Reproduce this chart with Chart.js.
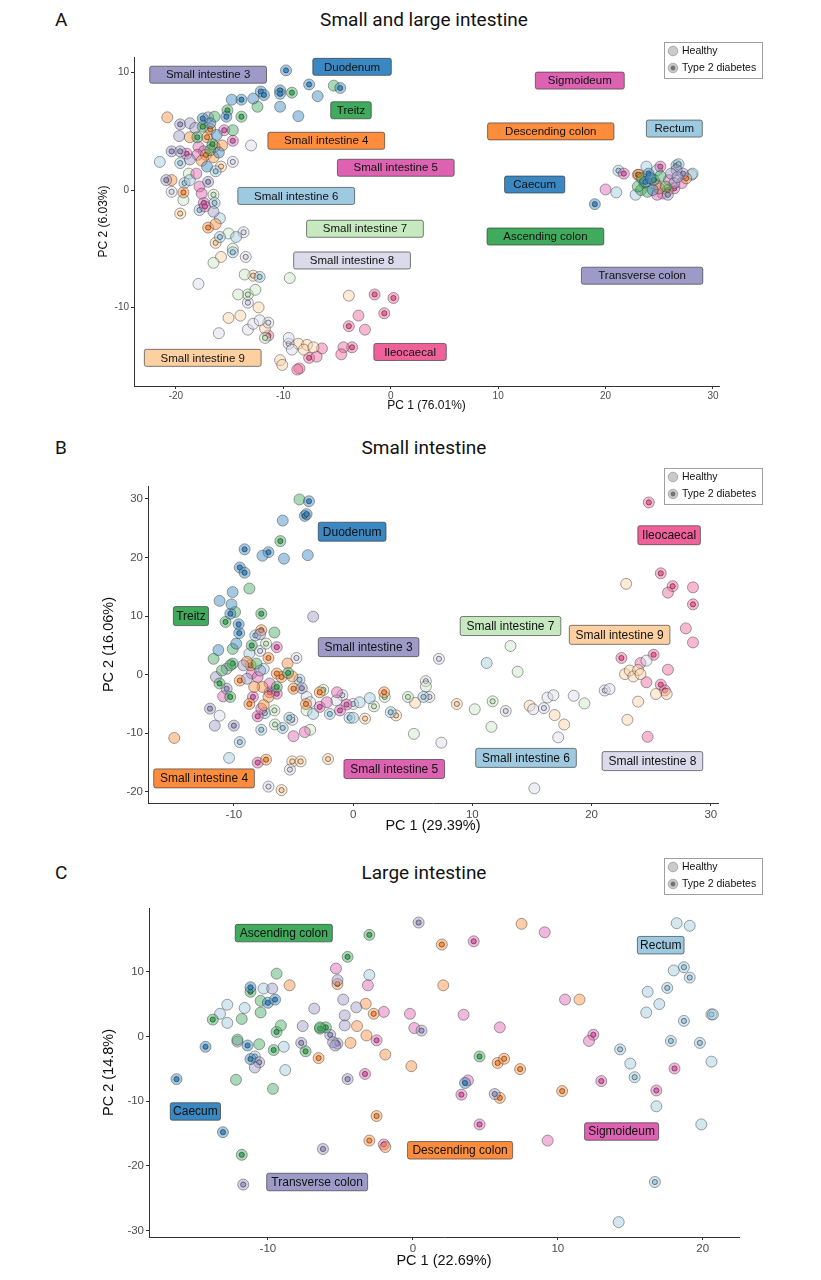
<!DOCTYPE html>
<html>
<head>
<meta charset="utf-8">
<script src="https://cdn.jsdelivr.net/npm/chart.js@4.4.1/dist/chart.umd.min.js"></script>
<style>
    body { margin: 0; background: #fff; width: 821px; height: 1280px; position: relative; overflow: hidden; font-family: Roboto, sans-serif; }
    .panel { position: absolute; left: 0; width: 821px; }
    .panel canvas { position: absolute; left: 0; top: 0; }
    .title { position: absolute; left: 0; width: 848px; text-align: center; font-size: 19px; line-height: 22px; color: #111; }
    .letter { position: absolute; left: 55px; font-size: 19px; line-height: 22px; color: #111; }
</style>
</head>
<body>

<div class="letter" style="top:9px">A</div>
<div class="title" style="top:9px">Small and large intestine</div>
<div class="panel" style="top:0px;height:425px"><canvas id="chartA" width="821" height="425"></canvas></div>

<div class="letter" style="top:437px">B</div>
<div class="title" style="top:437px">Small intestine</div>
<div class="panel" style="top:425px;height:425px"><canvas id="chartB" width="821" height="425"></canvas></div>

<div class="letter" style="top:862px">C</div>
<div class="title" style="top:862px">Large intestine</div>
<div class="panel" style="top:850px;height:430px"><canvas id="chartC" width="821" height="430"></canvas></div>

<script>
// groups (segments) and their colours
const groupKeys = ['duo', 'tre', 'si3', 'si4', 'si5', 'si6', 'si7', 'si8', 'si9', 'ile',
                   'cae', 'asc', 'tra', 'des', 'sig', 'rec'];
const groupNames = ['Duodenum', 'Treitz', 'Small intestine 3', 'Small intestine 4', 'Small intestine 5',
                    'Small intestine 6', 'Small intestine 7', 'Small intestine 8', 'Small intestine 9', 'Ileocaecal',
                    'Caecum', 'Ascending colon', 'Transverse colon', 'Descending colon', 'Sigmoideum', 'Rectum'];
const groupColors = ['#3a87c2', '#41ab5d', '#9e9ac8', '#fd8d3c', '#dd62b1', '#9ecae1', '#c7e9c0', '#dadaeb', '#fdd0a2', '#ee6199',
                     '#3a87c2', '#41ab5d', '#9e9ac8', '#fd8d3c', '#dd62b1', '#9ecae1'];

// ---- panel A: small and large intestine (PC1 76.01%, PC2 6.03%) ----
const aHealthy = [
    [-5.3, 8.9, 'tre'], [-6.8, 8.0, 'duo'], [-10.3, 7.1, 'duo'], [-8.6, 6.3, 'duo'], [-12.8, 7.8, 'duo'], [-12.4, 7.1, 'tre'],
    [-14.8, 7.7, 'duo'], [-16.4, 6.25, 'tre'], [-20.8, 6.2, 'si4'], [-18.7, 5.7, 'si3'], [-16.8, 5.7, 'duo'], [-14.7, 5.1, 'tre'],
    [-13.0, 3.8, 'si8'], [-19.7, 4.6, 'si3'], [-18.7, 4.5, 'si4'], [-16.2, 4.7, 'duo'], [-15.7, 3.8, 'si4'], [-17.9, 3.7, 'si5'],
    [-21.5, 2.4, 'si6'], [-18.7, 2.6, 'si3'], [-17.6, 2.5, 'si4'], [-16.5, 2.8, 'si4'], [-17.4, 3.3, 'si5'], [-16.8, 3.4, 'tre'],
    [-16.4, 3.7, 'si4'], [-17.1, 2.0, 'duo'], [-18.8, 1.4, 'si7'], [-18.1, 1.4, 'si5'], [-20.4, 0.85, 'si4'], [-18.7, 0.85, 'si6'],
    [-17.8, 0.3, 'si5'], [-19.3, -0.85, 'si7'], [-17.6, -0.3, 'si5'], [-16.5, -1.85, 'si3'], [-15.9, -2.4, 'si6'], [-16.3, -2.9, 'si4'],
    [-15.1, -3.7, 'si7'], [-14.4, -4.0, 'si6'], [-14.7, -5.0, 'si7'], [-15.8, -5.7, 'si9'], [-16.5, -6.2, 'si7'], [-17.9, -8.0, 'si8'],
    [-13.6, -7.2, 'si7'], [-9.4, -7.5, 'si7'], [-14.2, -8.9, 'si7'], [-12.6, -8.5, 'si7'], [-12.3, -10.0, 'si9'], [-15.1, -10.9, 'si9'],
    [-14.0, -10.7, 'si9'], [-16.0, -12.2, 'si8'], [-13.3, -11.9, 'si8'], [-12.8, -11.4, 'si8'], [-12.2, -11.1, 'si8'], [-11.7, -11.8, 'si9'],
    [-9.5, -12.6, 'si8'], [-9.2, -13.6, 'si8'], [-10.3, -14.5, 'si9'], [-10.1, -14.9, 'si9'], [-8.6, -13.1, 'si9'], [-7.8, -13.2, 'si9'],
    [-8.1, -13.6, 'si9'], [-7.2, -13.4, 'si9'], [-6.4, -13.5, 'ile'], [-6.9, -14.2, 'ile'], [-8.5, -15.2, 'ile'], [-8.7, -15.3, 'ile'],
    [-4.4, -13.4, 'ile'], [-4.6, -14.0, 'ile'], [-3.9, -9.0, 'si9'], [-3.0, -10.7, 'ile'], [-2.4, -11.9, 'ile'], [-18.2, 5.3, 'si3'],
    [-17.0, 6.2, 'si3'], [-18.0, 3.0, 'si5'], [-16.0, 3.2, 'duo'],
    [20.0, 0.05, 'sig'], [21.0, -0.2, 'rec'], [23.8, 2.0, 'rec'], [26.6, 1.7, 'tra'], [28.0, 1.3, 'rec'], [27.1, 0.6, 'sig'],
    [22.8, -0.4, 'rec'], [24.2, 1.0, 'cae'], [25.1, 1.2, 'asc'], [26.1, 1.4, 'tra'], [25.9, 0.85, 'sig'], [24.7, 0.5, 'sig'],
    [23.6, 0.6, 'asc'], [23.3, 0.0, 'asc'], [23.9, -0.15, 'asc'], [25.3, -0.3, 'sig'], [26.4, 0.6, 'tra'], [24.8, -0.4, 'sig'],
    [24.4, 0.0, 'cae'], [25.6, 0.3, 'asc'], [26.7, 1.1, 'tra'], [23.0, 0.3, 'asc'], [24.8, 1.7, 'rec'], [25.0, 0.15, 'des'],
    [23.4, 1.0, 'asc'], [28.1, 1.4, 'rec']
];
const aT2D = [
    [-9.75, 10.2, 'duo'], [-10.3, 8.5, 'duo'], [-10.3, 8.2, 'duo'], [-12.1, 8.4, 'duo'], [-11.8, 8.1, 'duo'], [-9.2, 8.3, 'tre'],
    [-7.6, 9.0, 'duo'], [-4.7, 8.7, 'duo'], [-13.9, 7.7, 'duo'], [-15.2, 6.8, 'tre'], [-13.9, 6.25, 'tre'], [-15.3, 6.25, 'duo'],
    [-17.5, 6.1, 'duo'], [-19.6, 5.6, 'si3'], [-17.5, 5.4, 'tre'], [-15.5, 5.1, 'si5'], [-14.7, 4.2, 'si5'], [-18.0, 4.5, 'tre'],
    [-17.1, 4.5, 'si4'], [-20.4, 3.3, 'si3'], [-19.6, 3.3, 'si3'], [-19.0, 3.1, 'si5'], [-19.6, 2.3, 'si6'], [-15.8, 2.0, 'si9'],
    [-14.7, 2.4, 'si8'], [-16.3, 1.6, 'si6'], [-20.9, 0.85, 'si3'], [-19.2, 0.6, 'si6'], [-17.0, 0.7, 'si3'], [-20.4, -0.15, 'si8'],
    [-19.3, -0.2, 'si4'], [-16.5, -0.4, 'si7'], [-17.4, -1.1, 'si5'], [-17.8, -1.7, 'si6'], [-16.4, -1.1, 'si6'], [-17.3, -1.4, 'si5'],
    [-19.6, -2.0, 'si9'], [-17.0, -3.2, 'si4'], [-15.9, -4.0, 'si6'], [-13.7, -3.6, 'si8'], [-16.3, -4.5, 'si9'], [-14.7, -5.3, 'si6'],
    [-13.5, -5.7, 'si8'], [-12.8, -7.3, 'si9'], [-12.2, -7.4, 'si6'], [-13.3, -8.9, 'si7'], [-13.3, -9.6, 'si8'], [-11.4, -11.3, 'si8'],
    [-11.4, -12.4, 'ile'], [-11.7, -12.6, 'si7'], [-9.5, -13.1, 'si8'], [-7.6, -14.3, 'ile'], [-3.6, -13.4, 'ile'], [-1.5, -8.9, 'ile'],
    [0.25, -9.2, 'ile'], [-0.6, -10.5, 'ile'], [-3.9, -11.6, 'ile'], [-16.8, 5.2, 'si4'], [-17.2, 3.0, 'si4'], [-16.6, 3.9, 'tre'],
    [19.0, -1.2, 'cae'], [21.2, 1.65, 'rec'], [21.7, 1.4, 'sig'], [23.0, 1.3, 'des'], [25.1, 2.0, 'sig'], [26.6, 2.1, 'rec'],
    [27.5, 1.0, 'des'], [25.8, -0.4, 'tra'], [24.0, 1.4, 'cae'], [26.4, 0.15, 'sig'], [27.2, 1.4, 'tra'], [25.8, 0.0, 'des'],
    [23.7, 0.7, 'cae'], [24.5, 0.85, 'asc'], [23.1, 1.3, 'des'], [26.8, 2.2, 'rec']
];
const aLabels = [
    ['Small intestine 3', -17.0, 9.83, 'si3'], ['Duodenum', -3.6, 10.5, 'duo'], ['Treitz', -3.7, 6.8, 'tre'],
    ['Small intestine 4', -6.0, 4.2, 'si4'], ['Small intestine 5', 0.47, 1.9, 'si5'], ['Small intestine 6', -8.8, -0.5, 'si6'],
    ['Small intestine 7', -2.4, -3.3, 'si7'], ['Small intestine 8', -3.6, -6.0, 'si8'], ['Small intestine 9', -17.5, -14.3, 'si9'],
    ['Ileocaecal', 1.8, -13.8, 'ile'], ['Sigmoideum', 17.6, 9.33, 'sig'], ['Descending colon', 14.9, 5.0, 'des'],
    ['Rectum', 26.4, 5.24, 'rec'], ['Caecum', 13.4, 0.47, 'cae'], ['Ascending colon', 14.4, -3.96, 'asc'],
    ['Transverse colon', 23.4, -7.3, 'tra']
];
const aXTicks = [-20, -10, 0, 10, 20, 30];
const aYTicks = [-10, 0, 10];

// ---- panel B: small intestine (PC1 29.39%, PC2 16.06%) ----
const bHealthy = [
    [-4.5, 29.9, 'tre'], [-5.9, 26.3, 'duo'], [-7.6, 20.3, 'duo'], [-5.8, 19.8, 'duo'], [-3.8, 20.4, 'duo'], [-8.7, 14.7, 'tre'],
    [-10.1, 14.1, 'duo'], [-11.2, 12.6, 'duo'], [-10.2, 12.0, 'duo'], [-9.9, 10.7, 'tre'], [-3.35, 9.9, 'si3'], [-6.6, 7.2, 'tre'],
    [-7.8, 6.9, 'si3'], [-9.8, 5.3, 'duo'], [-10.1, 4.4, 'tre'], [-11.3, 4.2, 'duo'], [-11.7, 2.7, 'tre'], [-5.5, 1.9, 'si4'],
    [-8.7, 3.6, 'si6'], [-10.3, 1.6, 'tre'], [-10.6, 1.0, 'si3'], [-11.0, 0.7, 'tre'], [-11.5, -0.4, 'si3'], [-8.9, 2.2, 'si4'],
    [-9.2, 1.6, 'si3'], [-8.1, 1.9, 'tre'], [-7.8, 0.7, 'si3'], [-7.5, 1.0, 'si6'], [-8.5, 0.2, 'si5'], [-8.0, -0.4, 'si5'],
    [-8.9, -0.7, 'si3'], [-5.1, -0.3, 'si4'], [-7.0, -1.5, 'si5'], [-7.6, -2.1, 'si4'], [-8.3, -2.1, 'si4'], [-10.9, -3.7, 'si5'],
    [-7.1, -3.8, 'si4'], [-7.5, -5.2, 'si4'], [-7.7, -5.8, 'si5'], [-3.9, -3.8, 'si8'], [-3.6, -4.7, 'si8'], [-3.9, -6.1, 'si7'],
    [-3.35, -6.7, 'si6'], [-2.2, -4.7, 'si5'], [-1.35, -3.0, 'si5'], [-1.4, -4.4, 'si8'], [0.55, -4.7, 'si6'], [1.4, -4.0, 'si6'],
    [0.0, -7.35, 'si6'], [5.2, -4.8, 'si9'], [6.1, -2.0, 'si7'], [5.1, -10.1, 'si7'], [7.4, -11.6, 'si8'], [-5.0, -10.5, 'si5'],
    [-4.05, -9.8, 'si5'], [-3.6, -9.4, 'si7'], [-11.2, -7.0, 'si8'], [-11.6, -8.7, 'si3'], [-15.0, -10.8, 'si4'], [-10.4, -14.2, 'si6'],
    [26.4, 14.0, 'ile'], [28.5, 14.9, 'ile'], [22.9, 15.5, 'si9'], [27.9, 7.9, 'ile'], [28.5, 5.5, 'ile'], [24.6, 2.4, 'si8'],
    [24.1, 2.0, 'ile'], [26.4, 0.85, 'ile'], [22.8, 0.1, 'si9'], [23.2, 0.7, 'si9'], [23.5, -0.3, 'si9'], [23.9, 0.8, 'si9'],
    [24.1, 0.1, 'si9'], [24.6, -1.3, 'ile'], [25.4, -3.3, 'si9'], [26.3, -3.3, 'si9'], [21.5, -2.45, 'si8'], [23.9, -4.6, 'si9'],
    [23.0, -7.7, 'si9'], [24.7, -10.6, 'ile'], [13.2, 4.9, 'si7'], [13.8, 0.5, 'si7'], [11.2, 2.0, 'si6'], [10.2, -5.9, 'si7'],
    [11.6, -8.9, 'si7'], [14.8, -5.3, 'si9'], [15.1, -5.9, 'si8'], [16.3, -3.9, 'si8'], [16.8, -3.5, 'si8'], [16.9, -6.9, 'si9'],
    [17.7, -8.5, 'si9'], [17.2, -10.7, 'si8'], [18.5, -3.6, 'si8'], [19.4, -4.9, 'si7'], [15.2, -19.4, 'si8']
];
const bT2D = [
    [-3.7, 29.6, 'duo'], [-4.05, 27.1, 'duo'], [-3.9, 27.4, 'duo'], [-6.1, 22.8, 'tre'], [-9.1, 21.4, 'duo'], [-7.1, 20.9, 'duo'],
    [-9.5, 18.3, 'duo'], [-9.1, 17.4, 'duo'], [-10.3, 10.4, 'duo'], [-10.7, 9.0, 'tre'], [-7.7, 10.4, 'tre'], [-9.6, 8.6, 'duo'],
    [-9.55, 7.1, 'duo'], [-7.7, 7.6, 'si4'], [-8.2, 6.7, 'si6'], [-6.4, 4.7, 'si5'], [-7.3, 5.3, 'si7'], [-8.5, 5.0, 'tre'],
    [-7.8, 4.05, 'si8'], [-7.1, 2.85, 'si4'], [-4.75, 2.85, 'si8'], [-10.1, 1.9, 'tre'], [-8.6, 1.6, 'si4'], [-9.5, -1.0, 'si4'],
    [-6.4, 0.2, 'si4'], [-6.0, -0.4, 'si4'], [-5.45, 0.3, 'tre'], [-6.4, -2.1, 'tre'], [-11.2, -1.5, 'tre'], [-10.6, -2.4, 'si3'],
    [-10.3, -3.8, 'tre'], [-4.5, -0.85, 'si6'], [-5.0, -2.4, 'si4'], [-4.3, -2.3, 'si3'], [-7.0, -3.0, 'si5'], [-6.4, -3.25, 'si5'],
    [-8.4, -3.8, 'si5'], [-8.7, -5.0, 'si4'], [-7.4, -6.55, 'si6'], [-8.0, -7.1, 'si5'], [-6.6, -6.1, 'si7'], [-3.95, -5.0, 'si4'],
    [-2.8, -3.0, 'si4'], [-2.5, -2.6, 'si7'], [-2.8, -5.5, 'si5'], [-0.9, -3.5, 'si8'], [-0.55, -5.1, 'si5'], [-1.1, -6.1, 'si5'],
    [0.0, -5.0, 'si8'], [1.75, -5.4, 'si7'], [-1.95, -6.7, 'si6'], [-0.3, -7.35, 'si6'], [1.0, -7.5, 'si9'], [2.6, -3.0, 'si4'],
    [2.65, -3.8, 'si7'], [3.15, -6.4, 'si6'], [3.6, -6.95, 'si9'], [4.6, -3.8, 'si7'], [5.9, -3.8, 'si6'], [6.4, -3.8, 'si8'],
    [6.1, -1.1, 'si8'], [7.2, 2.7, 'si8'], [8.7, -5.0, 'si9'], [-5.35, -7.35, 'si6'], [-5.1, -7.7, 'si8'], [-6.55, -8.5, 'si7'],
    [-5.9, -9.1, 'si6'], [-7.7, -9.4, 'si6'], [-12.0, -5.8, 'si3'], [-10.0, -8.7, 'si3'], [-9.5, -11.5, 'si6'], [-8.0, -15.0, 'si5'],
    [-7.3, -14.5, 'si4'], [-5.1, -14.8, 'si9'], [-4.4, -14.8, 'si9'], [-5.3, -16.2, 'si8'], [-2.1, -14.4, 'si9'], [-7.1, -19.1, 'si8'],
    [-6.0, -19.7, 'si9'], [24.8, 29.4, 'ile'], [25.8, 17.3, 'ile'], [26.8, 15.1, 'ile'], [28.5, 12.0, 'ile'], [22.5, 2.85, 'ile'],
    [25.2, 3.4, 'ile'], [25.8, -1.7, 'ile'], [26.15, -2.7, 'ile'], [21.1, -2.7, 'si8'], [11.7, -4.55, 'si7'], [12.8, -6.2, 'si8'],
    [16.0, -5.7, 'si8']
];
const bLabels = [
    ['Duodenum', -0.08, 24.4, 'duo'], ['Treitz', -13.6, 10.0, 'tre'], ['Small intestine 3', 1.3, 4.7, 'si3'],
    ['Small intestine 4', -12.5, -17.7, 'si4'], ['Small intestine 5', 3.45, -16.1, 'si5'], ['Ileocaecal', 26.5, 23.8, 'ile'],
    ['Small intestine 7', 13.2, 8.3, 'si7'], ['Small intestine 9', 22.35, 6.8, 'si9'], ['Small intestine 6', 14.5, -14.2, 'si6'],
    ['Small intestine 8', 25.1, -14.75, 'si8']
];
const bXTicks = [-10, 0, 10, 20, 30];
const bYTicks = [-20, -10, 0, 10, 20, 30];

// ---- panel C: large intestine (PC1 22.69%, PC2 14.8%) ----
const cHealthy = [
    [-5.3, 10.5, 'sig'], [-5.2, 8.7, 'tra'], [-3.0, 9.5, 'rec'], [-3.1, 7.9, 'sig'], [-9.4, 9.7, 'asc'], [-8.5, 7.9, 'des'],
    [-10.3, 7.4, 'rec'], [-9.7, 7.4, 'tra'], [-12.8, 4.9, 'rec'], [-13.3, 3.5, 'rec'], [-11.6, 4.4, 'rec'], [-12.8, 2.1, 'rec'],
    [-11.8, 2.7, 'asc'], [-10.5, 3.7, 'asc'], [-10.5, 5.5, 'asc'], [-9.1, 1.7, 'asc'], [-12.1, -0.5, 'asc'], [-12.1, -0.8, 'tra'],
    [-10.6, -1.2, 'asc'], [-8.9, -1.6, 'rec'], [-10.9, -4.8, 'tra'], [-8.8, -5.2, 'rec'], [-12.2, -6.7, 'asc'], [-9.65, -8.1, 'asc'],
    [-7.6, 1.6, 'tra'], [-6.8, 4.3, 'tra'], [-6.4, 1.4, 'asc'], [-5.5, -0.9, 'tra'], [-5.35, -1.4, 'tra'], [-4.8, 5.7, 'tra'],
    [-3.9, 4.5, 'tra'], [-4.7, 3.25, 'tra'], [-4.7, 1.7, 'tra'], [-3.85, 1.6, 'des'], [-3.25, 5.05, 'des'], [-2.0, 3.8, 'sig'],
    [-3.2, 0.15, 'des'], [-4.3, -1.0, 'des'], [-1.9, -2.8, 'des'], [-1.9, -17.1, 'des'], [-0.1, -4.6, 'des'], [-0.2, 3.5, 'sig'],
    [0.1, 1.3, 'sig'], [2.1, 7.9, 'des'], [7.5, 17.4, 'des'], [9.1, 16.1, 'sig'], [10.5, 5.7, 'sig'], [11.5, 5.7, 'des'],
    [3.5, 3.35, 'sig'], [6.0, 1.4, 'sig'], [12.15, -0.7, 'sig'], [3.8, -6.8, 'sig'], [9.3, -16.1, 'sig'], [15.0, -4.2, 'rec'],
    [16.8, -10.8, 'rec'], [20.6, -3.9, 'rec'], [19.9, -13.6, 'rec'], [14.2, -28.7, 'rec'], [16.1, 3.7, 'rec'], [17.0, 5.0, 'rec'],
    [16.2, 6.9, 'rec'], [18.0, 10.2, 'rec'], [18.2, 17.5, 'rec'], [19.1, 17.1, 'rec'], [20.7, 3.4, 'rec']
];
const cT2D = [
    [0.4, 17.6, 'tra'], [-3.0, 15.7, 'asc'], [-4.5, 12.3, 'asc'], [-5.2, 8.1, 'des'], [-11.2, 7.6, 'cae'], [-11.2, 6.9, 'asc'],
    [-13.8, 2.6, 'asc'], [-10.0, 5.2, 'cae'], [-9.5, 5.7, 'cae'], [-9.4, 0.7, 'asc'], [-11.4, -1.4, 'cae'], [-14.3, -1.6, 'cae'],
    [-9.6, -2.1, 'asc'], [-11.2, -3.5, 'cae'], [-10.9, -3.1, 'rec'], [-10.6, -4.0, 'tra'], [-16.3, -6.6, 'cae'], [-13.1, -14.8, 'cae'],
    [-11.8, -18.3, 'asc'], [-11.7, -22.9, 'tra'], [-6.2, -17.4, 'tra'], [-6.0, 1.4, 'asc'], [-6.4, 1.2, 'asc'], [-5.7, 0.25, 'tra'],
    [-7.7, -1.0, 'tra'], [-7.4, -2.3, 'asc'], [-5.2, -1.1, 'tra'], [-6.5, -3.35, 'des'], [-2.7, 3.5, 'des'], [-2.5, -0.6, 'sig'],
    [-4.5, -6.6, 'tra'], [-3.3, -5.8, 'sig'], [-2.5, -12.3, 'des'], [-3.0, -16.1, 'des'], [-2.0, -16.7, 'sig'], [0.6, 0.9, 'tra'],
    [2.0, 14.2, 'des'], [4.2, 14.7, 'sig'], [12.45, 0.26, 'sig'], [4.6, -3.1, 'asc'], [5.85, -4.1, 'des'], [6.3, -3.45, 'des'],
    [7.4, -5.05, 'des'], [3.6, -7.2, 'cae'], [3.35, -9.0, 'sig'], [5.65, -8.9, 'tra'], [6.0, -9.5, 'des'], [10.3, -8.45, 'des'],
    [13.0, -6.9, 'sig'], [4.6, -13.6, 'sig'], [14.3, -2.0, 'rec'], [15.3, -6.3, 'rec'], [16.8, -8.35, 'sig'], [18.05, -4.95, 'sig'],
    [17.8, -0.7, 'rec'], [19.8, -1.0, 'rec'], [16.7, -22.5, 'rec'], [18.7, 2.4, 'rec'], [17.55, 7.5, 'rec'], [18.7, 10.7, 'rec'],
    [19.1, 9.1, 'rec'], [20.6, 3.4, 'rec']
];
const cLabels = [
    ['Ascending colon', -8.9, 15.97, 'asc'], ['Caecum', -15.0, -11.6, 'cae'], ['Transverse colon', -6.6, -22.5, 'tra'],
    ['Descending colon', 3.26, -17.6, 'des'], ['Rectum', 17.1, 14.1, 'rec'], ['Sigmoideum', 14.4, -14.7, 'sig']
];
const cXTicks = [-10, 0, 10, 20];
const cYTicks = [-30, -20, -10, 0, 10];


function colorOf(key) {
    return groupColors[groupKeys.indexOf(key)];
}

function rgba(hex, a) {
    var n = parseInt(hex.slice(1), 16);
    return 'rgba(' + (n >> 16) + ',' + ((n >> 8) & 255) + ',' + (n & 255) + ',' + a + ')';
}

function buildDatasets(healthy, t2d) {
    var sets = [];
    groupKeys.forEach(function (key) {
        var h = healthy.filter(function (p) { return p[2] === key; });
        var t = t2d.filter(function (p) { return p[2] === key; });
        [[h, false], [t, true]].forEach(function (pair) {
            if (!pair[0].length) return;
            sets.push({
                label: groupNames[groupKeys.indexOf(key)] + (pair[1] ? ' (T2D)' : ''),
                data: pair[0].map(function (p) { return { x: p[0], y: p[1] }; }),
                backgroundColor: rgba(colorOf(key), 0.45),
                borderColor: 'rgba(45,45,45,0.55)',
                borderWidth: 0.8,
                pointRadius: 5.5,
                pointHoverRadius: 5.5,
                t2d: pair[1],
                dotColor: rgba(colorOf(key), 0.9)
            });
        });
    });
    return sets;
}

// inner dot for type 2 diabetes samples
const innerDot = {
    id: 'innerDot',
    afterDatasetDraw: function (chart, args) {
        var ds = chart.data.datasets[args.index];
        if (!ds.t2d) return;
        var ctx = chart.ctx;
        ctx.save();
        args.meta.data.forEach(function (pt) {
            ctx.beginPath();
            ctx.arc(pt.x, pt.y, 2.6, 0, Math.PI * 2);
            ctx.fillStyle = ds.dotColor;
            ctx.fill();
            ctx.lineWidth = 0.8;
            ctx.strokeStyle = 'rgba(40,40,40,0.7)';
            ctx.stroke();
        });
        ctx.restore();
    }
};

// segment labels in boxes
const segLabels = {
    id: 'segLabels',
    afterDatasetsDraw: function (chart, args, opts) {
        var ctx = chart.ctx;
        var xs = chart.scales.x, ys = chart.scales.y;
        ctx.save();
        ctx.font = opts.fontSize + 'px "Liberation Sans", Arial, sans-serif';
        ctx.textAlign = 'center';
        ctx.textBaseline = 'middle';
        opts.items.forEach(function (l) {
            var px = xs.getPixelForValue(l[1]);
            var py = ys.getPixelForValue(l[2]);
            var w = ctx.measureText(l[0]).width * opts.widthScale + 2;
            var h = opts.boxHeight;
            ctx.beginPath();
            ctx.roundRect(px - w / 2, py - h / 2, w, h, 2);
            ctx.fillStyle = colorOf(l[3]);
            ctx.fill();
            ctx.lineWidth = 0.8;
            ctx.strokeStyle = 'rgba(50,50,50,0.8)';
            ctx.stroke();
            ctx.fillStyle = '#111';
            ctx.fillText(l[0], px, py + 0.5);
        });
        ctx.restore();
    }
};

// small legend for sample status
const statusLegend = {
    id: 'statusLegend',
    afterDraw: function (chart, args, opts) {
        var ctx = chart.ctx;
        var x = opts.x, y = opts.y;
        ctx.save();
        ctx.lineWidth = 1;
        ctx.strokeStyle = '#a0a0a0';
        ctx.strokeRect(x + 0.5, y + 0.5, 98, 36);
        ctx.font = '10.5px "Liberation Sans", Arial, sans-serif';
        ctx.textBaseline = 'middle';
        ctx.textAlign = 'left';
        [['Healthy', false], ['Type 2 diabetes', true]].forEach(function (it, i) {
            var cy = y + 9 + i * 17;
            ctx.beginPath();
            ctx.arc(x + 9, cy, 4.8, 0, Math.PI * 2);
            ctx.fillStyle = 'rgba(160,160,160,0.55)';
            ctx.fill();
            ctx.strokeStyle = 'rgba(90,90,90,0.5)';
            ctx.lineWidth = 0.8;
            ctx.stroke();
            if (it[1]) {
                ctx.beginPath();
                ctx.arc(x + 9, cy, 2.2, 0, Math.PI * 2);
                ctx.fillStyle = 'rgba(110,110,110,0.9)';
                ctx.fill();
                ctx.stroke();
            }
            ctx.fillStyle = '#111';
            ctx.fillText(it[0], x + 18, cy);
        });
        ctx.restore();
    }
};

function makeChart(id, cfg) {
    var ctx = document.getElementById(id).getContext('2d');
    return new Chart(ctx, {
        type: 'scatter',
        data: { datasets: buildDatasets(cfg.healthy, cfg.t2d) },
        options: {
            responsive: false,
            animation: false,
            layout: { padding: cfg.padding },
            plugins: {
                legend: { display: false },
                tooltip: { enabled: false },
                segLabels: { items: cfg.labels, fontSize: cfg.labelFont, widthScale: cfg.widthScale, boxHeight: cfg.boxHeight },
                statusLegend: cfg.legend
            },
            scales: {
                x: {
                    type: 'linear', min: cfg.xMin, max: cfg.xMax,
                    afterFit: function (s) { s.height = cfg.xAxisH; },
                    afterBuildTicks: function (s) { s.ticks = cfg.xTicks.map(function (v) { return { value: v }; }); },
                    grid: { drawOnChartArea: false, drawTicks: true, tickLength: 3, color: '#333' },
                    border: { display: true, color: '#333', width: 1 },
                    ticks: { color: '#4d4d4d', padding: cfg.tickPad, font: { size: cfg.tickFont, family: '"Liberation Sans", Arial' } },
                    title: { display: true, text: cfg.xTitle, color: '#111', padding: 0, font: { size: cfg.titleFont, family: '"Liberation Sans", Arial' } }
                },
                y: {
                    type: 'linear', min: cfg.yMin, max: cfg.yMax,
                    afterFit: function (s) { s.width = cfg.yAxisW; },
                    afterBuildTicks: function (s) { s.ticks = cfg.yTicks.map(function (v) { return { value: v }; }); },
                    grid: { drawOnChartArea: false, drawTicks: true, tickLength: 3, color: '#333' },
                    border: { display: true, color: '#333', width: 1 },
                    ticks: { color: '#4d4d4d', padding: 2, font: { size: cfg.tickFont, family: '"Liberation Sans", Arial' } },
                    title: { display: true, text: cfg.yTitle, color: '#111', padding: 0, font: { size: cfg.titleFont, family: '"Liberation Sans", Arial' } }
                }
            }
        },
        plugins: [innerDot, segLabels, statusLegend]
    });
}

makeChart('chartA', {
    healthy: aHealthy, t2d: aT2D, labels: aLabels, xTicks: aXTicks, yTicks: aYTicks,
    xMin: -23.9, xMax: 30.56, yMin: -16.7, yMax: 11.34,
    padding: { left: 96.8, right: 102, top: 57, bottom: 11.8 }, xAxisH: 27.2, yAxisW: 37.2,
    tickFont: 10, tickPad: 1.5, titleFont: 12, labelFont: 11.5, widthScale: 1.36, boxHeight: 17,
    xTitle: 'PC 1 (76.01%)', yTitle: 'PC 2 (6.03%)', legend: { x: 664, y: 42 }
});

makeChart('chartB', {
    healthy: bHealthy, t2d: bT2D, labels: bLabels, xTicks: bXTicks, yTicks: bYTicks,
    xMin: -17.2, xMax: 30.6, yMin: -21.9, yMax: 32.2,
    padding: { left: 99.9, right: 103, top: 61, bottom: 14.9 }, xAxisH: 32.1, yAxisW: 48.1,
    tickFont: 11.5, tickPad: 2, titleFont: 14.5, labelFont: 12, widthScale: 1.12, boxHeight: 19,
    xTitle: 'PC 1 (29.39%)', yTitle: 'PC 2 (16.06%)', legend: { x: 664, y: 43 }
});

makeChart('chartC', {
    healthy: cHealthy, t2d: cT2D, labels: cLabels, xTicks: cXTicks, yTicks: cYTicks,
    xMin: -18.2, xMax: 22.5, yMin: -31, yMax: 19.85,
    padding: { left: 99.9, right: 82, top: 58, bottom: 9.9 }, xAxisH: 33.1, yAxisW: 49.1,
    tickFont: 11.5, tickPad: 1.5, titleFont: 14.5, labelFont: 12, widthScale: 1.08, boxHeight: 17.5,
    xTitle: 'PC 1 (22.69%)', yTitle: 'PC 2 (14.8%)', legend: { x: 664, y: 8 }
});
</script>
</body>
</html>
